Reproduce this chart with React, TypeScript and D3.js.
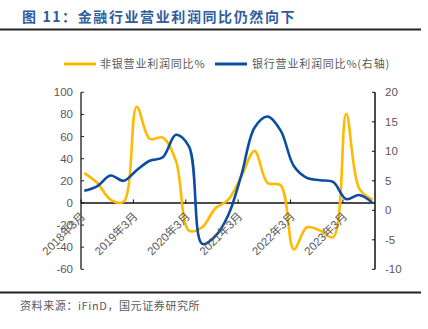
import React from "react";
import * as d3 from "d3";

const quarters = [
  "2018-03","2018-06","2018-09","2018-12",
  "2019-03","2019-06","2019-09","2019-12",
  "2020-03","2020-06","2020-09","2020-12",
  "2021-03","2021-06","2021-09","2021-12",
  "2022-03","2022-06","2022-09","2022-12",
  "2023-03","2023-06","2023-09",
];
const nonBank = [27, 18, 3, 1, 87, 58, 59, 38, -25, -22, -5, 3, 24, 47, 18, 16, -42, -22, -25, -31, 80.6, 13, 3];
const bank = [3.3, 4.1, 5.9, 5.0, 6.8, 8.4, 9.0, 12.8, 10.8, -5.7, -4.4, -0.8, 6, 14, 15.9, 13.5, 7.5, 5.5, 5.1, 4.8, 1.9, 2.6, 1.3];
const xTickLabels = ["2018年3月", "2019年3月", "2020年3月", "2021年3月", "2022年3月", "2023年3月"];
const leftTicks = [100, 80, 60, 40, 20, 0, -20, -40, -60];
const rightTicks = [20, 15, 10, 5, 0, -5, -10];
const legendLabels = ["非银营业利润同比%", "银行营业利润同比%(右轴)"];
const title = "图 11：金融行业营业利润同比仍然向下";
const source = "资料来源：iFinD，国元证券研究所";

const YELLOW = "#FFB900";
const BLUE = "#0B4DA2";
const GRAY = "#595959";
const FONT = "'Liberation Sans', Arial, 'Noto Sans CJK SC', sans-serif";

export default function App() {
  const W = 428, H = 329;
  const x = d3.scaleLinear().domain([-0.25, 22.2]).range([81, 375]);
  const yL = d3.scaleLinear().domain([-60, 100]).range([269.3, 92.3]);
  const yR = d3.scaleLinear().domain([-10, 20]).range([269.3, 92.3]);
  const curve = d3.curveCatmullRom.alpha(0.5);
  const lineL = d3.line<number>().x((_, i) => x(i)).y((d) => yL(d)).curve(curve);
  const lineR = d3.line<number>().x((_, i) => x(i)).y((d) => yR(d)).curve(curve);
  const xTickPos = xTickLabels.map((_, k) => x(4 * k - 0.25));
  const y0 = yL(0);

  return (
    <svg width={W} height={H} style={{ position: "absolute", left: 0, top: 0, background: "#fff" }} fontFamily={FONT}>
      <text x={22} y={22} fill="#2F5D9E" fontSize={14} fontWeight="bold" letterSpacing={1.6}
        fontFamily="'Noto Sans CJK SC', sans-serif">{title}</text>
      <line x1={0} x2={421} y1={29.5} y2={29.5} stroke="#222" strokeWidth={2} />

      {/* legend */}
      <line x1={64} x2={96} y1={64} y2={64} stroke={YELLOW} strokeWidth={3} />
      <text x={100} y={68} fontSize={11} fill={GRAY} letterSpacing={0.8} fontFamily="'Noto Sans CJK SC', sans-serif">{legendLabels[0]}</text>
      <line x1={215} x2={247} y1={64} y2={64} stroke={BLUE} strokeWidth={3} />
      <text x={252} y={68} fontSize={11} fill={GRAY} letterSpacing={0.8} fontFamily="'Noto Sans CJK SC', sans-serif">{legendLabels[1]}</text>

      {/* left axis */}
      <line x1={81} x2={81} y1={yL(100)} y2={yL(-60)} stroke="#6b6b6b" strokeWidth={2} />
      {leftTicks.map((t) => (
        <g key={"l" + t}>
          <line x1={81} x2={84} y1={yL(t)} y2={yL(t)} stroke="#222" strokeWidth={1} />
          <text x={73} y={yL(t) + 4} textAnchor="end" fontSize={11.5} fill={GRAY}>{t}</text>
        </g>
      ))}

      {/* right axis */}
      <line x1={375} x2={375} y1={yR(20)} y2={yR(-10)} stroke="#111" strokeWidth={1.5} />
      {rightTicks.map((t) => (
        <g key={"r" + t}>
          <line x1={372} x2={375} y1={yR(t)} y2={yR(t)} stroke="#111" strokeWidth={1} />
          <text x={385} y={yR(t) + 4} textAnchor="start" fontSize={11.5} fill={GRAY}>{t}</text>
        </g>
      ))}

      {/* zero line + x ticks */}
      <line x1={81} x2={375} y1={y0} y2={y0} stroke="#111" strokeWidth={1.5} />
      {xTickPos.map((px, k) => (
        <g key={"x" + k}>
          <line x1={px} x2={px} y1={y0} y2={y0 - 3.5} stroke="#111" strokeWidth={1} />
        </g>
      ))}

      {/* series */}
      <path d={lineL(nonBank) || ""} fill="none" stroke={YELLOW} strokeWidth={2.6} />
      <path d={lineR(bank) || ""} fill="none" stroke={BLUE} strokeWidth={2.6} />

      {/* x labels */}
      {xTickPos.map((px, k) => (
        <text key={"xl" + k} transform={`translate(${px + 5},${217}) rotate(-45)`} textAnchor="end"
          fontSize={11.5} fill={GRAY}>{xTickLabels[k]}</text>
      ))}

      <line x1={0} x2={421} y1={292.5} y2={292.5} stroke="#222" strokeWidth={2} />
      <text x={20} y={310} fontSize={11} fill={GRAY} letterSpacing={0.6} fontFamily="'Noto Sans CJK SC', sans-serif">{source}</text>
    </svg>
  );
}
